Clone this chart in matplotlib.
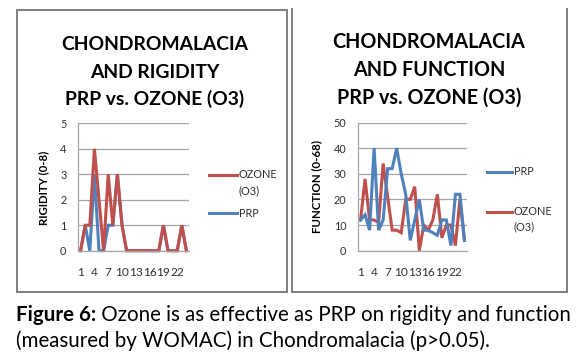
import matplotlib
matplotlib.use("Agg")
import matplotlib.pyplot as plt
from matplotlib.lines import Line2D
import numpy as np

# ---------------- data ----------------
categories = list(range(1, 25))
tick_values = [1, 4, 7, 10, 13, 16, 19, 22]
tick_labels = [str(v) for v in tick_values]

rigidity_ozone = [0, 1, 1, 4, 2, 0, 3, 1, 3, 1, 0, 0, 0, 0, 0, 0, 0, 0, 1, 0, 0, 0, 1, 0]
rigidity_prp = [0, 1, 0, 3, 0, 0, 1, 1, 3, 1, 0, 0, 0, 0, 0, 0, 0, 0, 1, 0, 0, 0, 1, 0]

function_prp = [12, 14, 8, 40, 8, 12, 32, 32, 40, 30, 22, 4, 12, 20, 8, 8, 7, 6, 12, 12, 2, 22, 22, 4]
function_ozone = [12, 28, 12, 12, 11, 34, 21, 8, 8, 7, 20, 20, 25, 0, 10, 8, 12, 22, 5, 10, 10, 2, 20, 4]

left_title = ["CHONDROMALACIA", "AND RIGIDITY", "PRP vs. OZONE (O3)"]
right_title = ["CHONDROMALACIA", "AND FUNCTION", "PRP vs. OZONE (O3)"]
left_ylabel = "RIGIDITY (0-8)"
right_ylabel = "FUNCTION (0-68)"
caption_bold = "Figure 6:"
caption_line1 = " Ozone is as effective as PRP on rigidity and function"
caption_line2 = "(measured by WOMAC) in Chondromalacia (p>0.05)."

# ---------------- style ----------------
W, H = 583, 356
FONT = "Lato"
RED = "#C0504D"
BLUE = "#4F81BD"
GRID = "#a6a6a6"
TXT = "#303030"
BORDER = "#7f7f7f"

plt.rcParams["font.family"] = [FONT, "DejaVu Sans"]

fig = plt.figure(figsize=(W / 100, H / 100), dpi=100)
fig.patch.set_facecolor("white")


def fx(px):
    return px / W


def fy(py):
    return 1 - py / H


renderer = fig.canvas.get_renderer()


def fit_text(x, y, s, target_w, weight="normal", ha="center", va="baseline", color="black", size0=12):
    t = fig.text(fx(x), fy(y), s, fontsize=size0, fontweight=weight, ha=ha, va=va, color=color)
    w = t.get_window_extent(renderer).width
    t.set_fontsize(size0 * target_w / w)
    return t


def text_width(t):
    return t.get_window_extent(renderer).width


ylabel_cy = {left_ylabel: 188.0, right_ylabel: 186.5}


def make_axes(x0, x1, ytop, ybot, ymax, step, ylabel, ylabel_x, ylabel_len):
    ax = fig.add_axes([fx(x0), fy(ybot), (x1 - x0) / W, (ybot - ytop) / H])
    ax.set_xlim(0.5, 24.5)
    ax.set_ylim(0, ymax)
    ax.set_yticks(np.arange(0, ymax + 0.01, step))
    ax.set_xticks(tick_values)
    ax.set_xticklabels(tick_labels)
    ax.yaxis.grid(True, color=GRID, lw=0.9)
    ax.set_axisbelow(True)
    for s in ["top", "right"]:
        ax.spines[s].set_visible(False)
    for s in ["left", "bottom"]:
        ax.spines[s].set_color(GRID)
        ax.spines[s].set_linewidth(0.9)
    ax.tick_params(axis="both", length=0, labelcolor=TXT)
    ax.tick_params(axis="y", pad=8.5, labelsize=7.8)
    ax.tick_params(axis="x", pad=11.5, labelsize=8.6)
    lab = ax.set_ylabel(ylabel, fontsize=8, fontweight="bold", color="black")
    h = lab.get_window_extent(renderer).height
    lab.set_fontsize(8 * ylabel_len / h)
    ax.yaxis.set_label_coords((ylabel_x - x0) / (x1 - x0), (ybot - ylabel_cy[ylabel]) / (ybot - ytop))
    lab.set_va("center")
    return ax


# ---------------- left chart ----------------
axL = make_axes(78.3, 188.7, 123.3, 250.7, 5, 1, left_ylabel, 43.3, 75)
axL.plot(categories, rigidity_prp, color=BLUE, lw=2.2, solid_joinstyle="miter", clip_on=False)
axL.plot(categories, rigidity_ozone, color=RED, lw=2.2, solid_joinstyle="miter", clip_on=False)

# ---------------- right chart ----------------
axR = make_axes(358.3, 466.7, 122.5, 250.7, 50, 10, right_ylabel, 316.7, 93)
axR.plot(categories, function_ozone, color=RED, lw=2.2, solid_joinstyle="miter", clip_on=False)
axR.plot(categories, function_prp, color=BLUE, lw=2.2, solid_joinstyle="miter", clip_on=False)

# ---------------- titles ----------------
def title(lines, cx, baselines, target_w):
    t0 = fit_text(cx, baselines[0], lines[0], target_w, weight="bold")
    fs = t0.get_fontsize()
    for s, b in zip(lines[1:], baselines[1:]):
        fig.text(fx(cx), fy(b), s, fontsize=fs, fontweight="bold", ha="center", va="baseline")


title(left_title, 154.7, [49.5, 77.5, 105.0], 187)
title(right_title, 429.0, [48.5, 76.5, 104.0], 192)

# ---------------- legends ----------------
def legend_entry(x0, x1, y, color, lines_txt):
    fig.add_artist(Line2D([fx(x0), fx(x1)], [fy(y), fy(y)], color=color, lw=2.2))
    for k, s in enumerate(lines_txt):
        fig.text(fx(x1 + 2), fy(y + k * 15.5), s, fontsize=7.8, color=TXT, ha="left", va="center")


legend_entry(209.3, 236.7, 175.0, RED, ["OZONE", "(O3)"])
legend_entry(209.3, 236.7, 213.3, BLUE, ["PRP"])
legend_entry(486.7, 511.7, 171.7, BLUE, ["PRP"])
legend_entry(486.7, 511.7, 211.7, RED, ["OZONE", "(O3)"])

# ---------------- panel borders ----------------
def seg(x0, y0, x1, y1):
    fig.add_artist(Line2D([fx(x0), fx(x1)], [fy(y0), fy(y1)], color=BORDER, lw=1.4,
                          solid_capstyle="projecting"))


seg(16.7, 10, 287.3, 10)
seg(16.7, 10, 16.7, 292.3)
seg(287.3, 10, 287.3, 292.3)
seg(16.7, 292.3, 287.3, 292.3)
seg(292.0, 9, 292.0, 292.3)
seg(566.7, 9, 566.7, 292.3)
seg(292.0, 292.3, 566.7, 292.3)

# ---------------- caption ----------------
B1, B2 = 321.0, 347.0
tb = fig.text(fx(16), fy(B1), caption_bold, fontsize=12, fontweight="bold", ha="left",
              va="baseline", color="black")
tr = fig.text(fx(16), fy(B1), caption_line1, fontsize=12, ha="left", va="baseline", color="black")
total = text_width(tb) + text_width(tr)
fs = 12 * 555 / total
tb.set_fontsize(fs)
tr.set_fontsize(fs)
tr.set_position((fx(16 + text_width(tb)), fy(B1)))
fig.text(fx(16), fy(B2), caption_line2, fontsize=fs, ha="left", va="baseline", color="black")

fig.savefig("out.png", dpi=100, facecolor="white")
